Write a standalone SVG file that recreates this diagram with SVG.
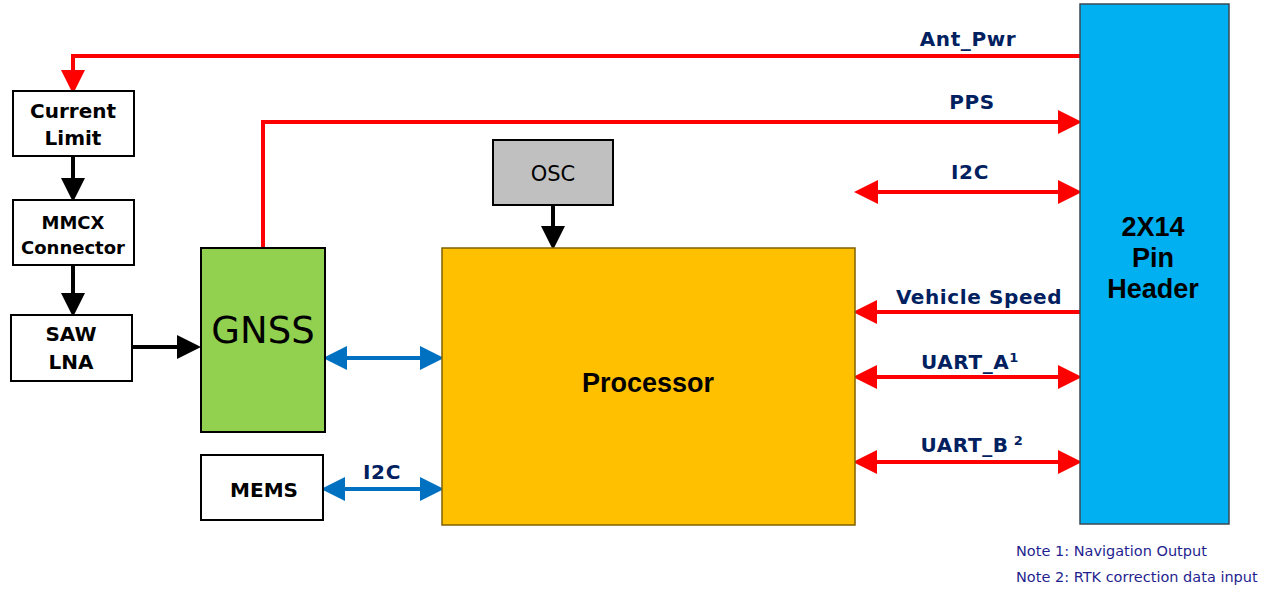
<svg xmlns="http://www.w3.org/2000/svg" width="1276" height="589" viewBox="0 0 1276 589">
<style>
.box{stroke:#000;stroke-width:2}
.bt{font-family:"DejaVu Sans",Verdana,sans-serif;font-weight:bold;font-size:20px;fill:#000;text-anchor:middle}
.lbl{font-family:"DejaVu Sans",Verdana,sans-serif;font-weight:bold;font-size:20px;letter-spacing:0.6px;fill:#002060;text-anchor:middle}
.red{stroke:#FF0000;stroke-width:4;fill:none}
.blue{stroke:#0070C0;stroke-width:4;fill:none}
.blk{stroke:#000;stroke-width:4;fill:none}
.note{font-family:"DejaVu Sans",Verdana,sans-serif;font-size:14.5px;fill:#1F1F8F}
</style>
<defs>
<marker id="ar" markerWidth="6" markerHeight="6" refX="5" refY="3" orient="auto-start-reverse" markerUnits="strokeWidth"><path d="M0,0 L6,3 L0,6 Z" fill="#FF0000"/></marker>
<marker id="ab" markerWidth="6" markerHeight="6" refX="5" refY="3" orient="auto-start-reverse" markerUnits="strokeWidth"><path d="M0,0 L6,3 L0,6 Z" fill="#0070C0"/></marker>
<marker id="ak" markerWidth="6" markerHeight="6" refX="5" refY="3" orient="auto-start-reverse" markerUnits="strokeWidth"><path d="M0,0 L6,3 L0,6 Z" fill="#000"/></marker>
</defs>
<rect width="1276" height="589" fill="#fff"/>
<g id="connectors">
<path class="red" d="M1080,56 H73 V90" marker-end="url(#ar)"/>
<path class="red" d="M263,248 V122 H1078" marker-end="url(#ar)"/>
<path class="red" d="M858,192 H1078" marker-start="url(#ar)" marker-end="url(#ar)"/>
<path class="red" d="M1080,312 H857" marker-end="url(#ar)"/>
<path class="red" d="M857,377 H1078" marker-start="url(#ar)" marker-end="url(#ar)"/>
<path class="red" d="M857,462 H1078" marker-start="url(#ar)" marker-end="url(#ar)"/>
<path class="blk" d="M73,157 V198" marker-end="url(#ak)"/>
<path class="blk" d="M73,265 V313" marker-end="url(#ak)"/>
<path class="blk" d="M132,347 H197" marker-end="url(#ak)"/>
<path class="blk" d="M553,205 V246" marker-end="url(#ak)"/>
<path class="blue" d="M327,358 H440" marker-start="url(#ab)" marker-end="url(#ab)"/>
<path class="blue" d="M325,489 H440" marker-start="url(#ab)" marker-end="url(#ab)"/>
<text class="lbl" x="968" y="46">Ant_Pwr</text>
<text class="lbl" x="972" y="109">PPS</text>
<text class="lbl" x="970" y="179">I2C</text>
<text class="lbl" x="979" y="304">Vehicle Speed</text>
<text class="lbl" x="970" y="369">UART_A<tspan font-size="13" dy="-7">1</tspan></text>
<text class="lbl" x="972" y="452">UART_B<tspan font-size="13" dy="-7"> 2</tspan></text>
<text class="lbl" x="382" y="479">I2C</text>
</g>
<g id="current-limit"><rect class="box" x="13" y="91" width="121" height="65" fill="#fff"/><text class="bt" x="73" y="118">Current</text><text class="bt" x="73" y="145">Limit</text></g>
<g id="mmcx"><rect class="box" x="13" y="200" width="121" height="65" fill="#fff"/><text class="bt" x="73" y="229" style="font-size:18px">MMCX</text><text class="bt" x="73" y="254" style="font-size:18px">Connector</text></g>
<g id="saw-lna"><rect class="box" x="11" y="315" width="121" height="66" fill="#fff"/><text class="bt" x="71" y="341">SAW</text><text class="bt" x="71" y="369">LNA</text></g>
<g id="gnss"><rect class="box" x="201" y="248" width="124" height="184" fill="#92D050"/><text x="263" y="343" font-family="'DejaVu Sans',Verdana,sans-serif" font-size="37" text-anchor="middle" fill="#000">GNSS</text></g>
<g id="mems"><rect class="box" x="201" y="455" width="122" height="65" fill="#fff"/><text class="bt" x="264" y="497">MEMS</text></g>
<g id="osc"><rect class="box" x="493" y="140" width="120" height="65" fill="#C0C0C0"/><text x="553" y="181" font-family="'DejaVu Sans',Verdana,sans-serif" font-size="21" text-anchor="middle" fill="#000">OSC</text></g>
<g id="processor"><rect x="442" y="248" width="413" height="277" fill="#FFC000" stroke="#7F6000" stroke-width="1.5"/><text x="648" y="392" font-family="'Liberation Sans',Arial,sans-serif" font-weight="bold" font-size="27" text-anchor="middle" fill="#000">Processor</text></g>
<g id="header"><rect x="1080" y="4" width="149" height="520" fill="#00B0F0" stroke="#3A4A55" stroke-width="1.5"/><text font-family="'Liberation Sans',Arial,sans-serif" font-weight="bold" font-size="27" text-anchor="middle" fill="#000"><tspan x="1153" y="236">2X14</tspan><tspan x="1153" y="267">Pin</tspan><tspan x="1153" y="298">Header</tspan></text></g>
<g id="notes"><text class="note" x="1016" y="556">Note 1: Navigation Output</text><text class="note" x="1016" y="582">Note 2: RTK correction data input</text></g>
</svg>
